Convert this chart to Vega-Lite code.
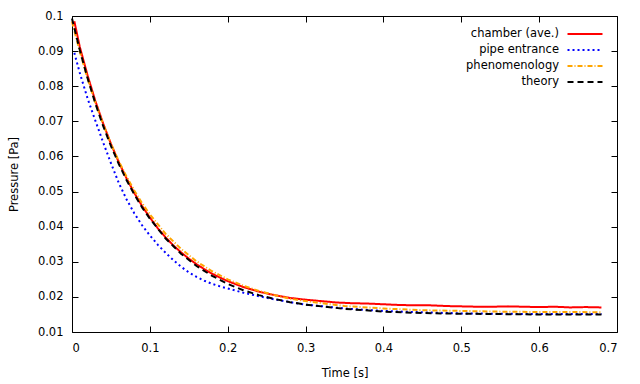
{
  "$schema": "https://vega.github.io/schema/vega-lite/v6.json",
  "width": 545,
  "height": 316,
  "autosize": {"type": "none"},
  "padding": {"left": 72, "top": 16, "right": 23, "bottom": 52},
  "background": "white",
  "config": {
    "font": "DejaVu Sans",
    "view": {"stroke": "black", "strokeWidth": 1},
    "axis": {
      "labelFont": "DejaVu Sans", "labelFontSize": 11.5, "labelColor": "black",
      "titleFont": "DejaVu Sans", "titleFontSize": 11.5, "titleFontWeight": "normal", "titleColor": "black",
      "tickColor": "black", "domainColor": "black", "grid": false, "tickSize": -6
    },
    "legend": {
      "orient": "none", "title": null, "padding": 0,
      "symbolType": "M-2,0H2", "symbolSize": 306,
      "labelAlign": "right", "labelOffset": -36, "rowPadding": 0,
      "labelFont": "DejaVu Sans", "labelFontSize": 11.5, "labelColor": "black"
    }
  },
  "data": {"values": [
    {"s": "chamber (ave.)", "t": 0.003, "p": 0.0985},
    {"s": "chamber (ave.)", "t": 0.01, "p": 0.0912},
    {"s": "chamber (ave.)", "t": 0.02, "p": 0.0831},
    {"s": "chamber (ave.)", "t": 0.03, "p": 0.0758},
    {"s": "chamber (ave.)", "t": 0.04, "p": 0.0694},
    {"s": "chamber (ave.)", "t": 0.05, "p": 0.0636},
    {"s": "chamber (ave.)", "t": 0.06, "p": 0.0584},
    {"s": "chamber (ave.)", "t": 0.07, "p": 0.0538},
    {"s": "chamber (ave.)", "t": 0.08, "p": 0.0496},
    {"s": "chamber (ave.)", "t": 0.09, "p": 0.0459},
    {"s": "chamber (ave.)", "t": 0.10, "p": 0.0426},
    {"s": "chamber (ave.)", "t": 0.11, "p": 0.0396},
    {"s": "chamber (ave.)", "t": 0.12, "p": 0.0370},
    {"s": "chamber (ave.)", "t": 0.13, "p": 0.0347},
    {"s": "chamber (ave.)", "t": 0.14, "p": 0.0327},
    {"s": "chamber (ave.)", "t": 0.15, "p": 0.0309},
    {"s": "chamber (ave.)", "t": 0.16, "p": 0.0293},
    {"s": "chamber (ave.)", "t": 0.17, "p": 0.0279},
    {"s": "chamber (ave.)", "t": 0.18, "p": 0.0266},
    {"s": "chamber (ave.)", "t": 0.19, "p": 0.0255},
    {"s": "chamber (ave.)", "t": 0.20, "p": 0.0245},
    {"s": "chamber (ave.)", "t": 0.22, "p": 0.0228},
    {"s": "chamber (ave.)", "t": 0.24, "p": 0.0215},
    {"s": "chamber (ave.)", "t": 0.26, "p": 0.0205},
    {"s": "chamber (ave.)", "t": 0.28, "p": 0.0197},
    {"s": "chamber (ave.)", "t": 0.30, "p": 0.0192},
    {"s": "chamber (ave.)", "t": 0.32, "p": 0.0188},
    {"s": "chamber (ave.)", "t": 0.34, "p": 0.0184},
    {"s": "chamber (ave.)", "t": 0.36, "p": 0.0182},
    {"s": "chamber (ave.)", "t": 0.38, "p": 0.0181},
    {"s": "chamber (ave.)", "t": 0.40, "p": 0.0179},
    {"s": "chamber (ave.)", "t": 0.42, "p": 0.0177},
    {"s": "chamber (ave.)", "t": 0.44, "p": 0.0176},
    {"s": "chamber (ave.)", "t": 0.46, "p": 0.0176},
    {"s": "chamber (ave.)", "t": 0.48, "p": 0.0174},
    {"s": "chamber (ave.)", "t": 0.50, "p": 0.0173},
    {"s": "chamber (ave.)", "t": 0.52, "p": 0.0172},
    {"s": "chamber (ave.)", "t": 0.54, "p": 0.0172},
    {"s": "chamber (ave.)", "t": 0.56, "p": 0.0173},
    {"s": "chamber (ave.)", "t": 0.58, "p": 0.0172},
    {"s": "chamber (ave.)", "t": 0.60, "p": 0.0171},
    {"s": "chamber (ave.)", "t": 0.62, "p": 0.0172},
    {"s": "chamber (ave.)", "t": 0.64, "p": 0.0170},
    {"s": "chamber (ave.)", "t": 0.66, "p": 0.0171},
    {"s": "chamber (ave.)", "t": 0.68, "p": 0.0170},

    {"s": "pipe entrance", "t": 0.003, "p": 0.0895},
    {"s": "pipe entrance", "t": 0.01, "p": 0.0838},
    {"s": "pipe entrance", "t": 0.02, "p": 0.0765},
    {"s": "pipe entrance", "t": 0.03, "p": 0.0702},
    {"s": "pipe entrance", "t": 0.04, "p": 0.0640},
    {"s": "pipe entrance", "t": 0.05, "p": 0.0581},
    {"s": "pipe entrance", "t": 0.06, "p": 0.0525},
    {"s": "pipe entrance", "t": 0.07, "p": 0.0478},
    {"s": "pipe entrance", "t": 0.08, "p": 0.0438},
    {"s": "pipe entrance", "t": 0.09, "p": 0.0404},
    {"s": "pipe entrance", "t": 0.10, "p": 0.0375},
    {"s": "pipe entrance", "t": 0.11, "p": 0.0349},
    {"s": "pipe entrance", "t": 0.12, "p": 0.0326},
    {"s": "pipe entrance", "t": 0.13, "p": 0.0305},
    {"s": "pipe entrance", "t": 0.14, "p": 0.0286},
    {"s": "pipe entrance", "t": 0.15, "p": 0.0270},
    {"s": "pipe entrance", "t": 0.16, "p": 0.0257},
    {"s": "pipe entrance", "t": 0.17, "p": 0.0246},
    {"s": "pipe entrance", "t": 0.18, "p": 0.0237},
    {"s": "pipe entrance", "t": 0.19, "p": 0.0230},
    {"s": "pipe entrance", "t": 0.20, "p": 0.0224},
    {"s": "pipe entrance", "t": 0.22, "p": 0.0212},
    {"s": "pipe entrance", "t": 0.24, "p": 0.0202},
    {"s": "pipe entrance", "t": 0.26, "p": 0.0193},
    {"s": "pipe entrance", "t": 0.28, "p": 0.0185},
    {"s": "pipe entrance", "t": 0.30, "p": 0.0178},
    {"s": "pipe entrance", "t": 0.35, "p": 0.0167},
    {"s": "pipe entrance", "t": 0.40, "p": 0.0160},
    {"s": "pipe entrance", "t": 0.45, "p": 0.0156},
    {"s": "pipe entrance", "t": 0.50, "p": 0.0153},
    {"s": "pipe entrance", "t": 0.55, "p": 0.0152},
    {"s": "pipe entrance", "t": 0.60, "p": 0.0151},
    {"s": "pipe entrance", "t": 0.65, "p": 0.0151},
    {"s": "pipe entrance", "t": 0.68, "p": 0.0151},

    {"s": "phenomenology", "t": 0.0, "p": 0.0984},
    {"s": "phenomenology", "t": 0.01, "p": 0.0899},
    {"s": "phenomenology", "t": 0.02, "p": 0.0822},
    {"s": "phenomenology", "t": 0.03, "p": 0.0753},
    {"s": "phenomenology", "t": 0.04, "p": 0.0692},
    {"s": "phenomenology", "t": 0.05, "p": 0.0636},
    {"s": "phenomenology", "t": 0.06, "p": 0.0587},
    {"s": "phenomenology", "t": 0.07, "p": 0.0543},
    {"s": "phenomenology", "t": 0.08, "p": 0.0503},
    {"s": "phenomenology", "t": 0.09, "p": 0.0467},
    {"s": "phenomenology", "t": 0.10, "p": 0.0435},
    {"s": "phenomenology", "t": 0.12, "p": 0.0380},
    {"s": "phenomenology", "t": 0.14, "p": 0.0337},
    {"s": "phenomenology", "t": 0.16, "p": 0.0301},
    {"s": "phenomenology", "t": 0.18, "p": 0.0273},
    {"s": "phenomenology", "t": 0.20, "p": 0.0250},
    {"s": "phenomenology", "t": 0.22, "p": 0.0232},
    {"s": "phenomenology", "t": 0.24, "p": 0.0217},
    {"s": "phenomenology", "t": 0.26, "p": 0.0205},
    {"s": "phenomenology", "t": 0.28, "p": 0.0195},
    {"s": "phenomenology", "t": 0.30, "p": 0.0188},
    {"s": "phenomenology", "t": 0.35, "p": 0.0174},
    {"s": "phenomenology", "t": 0.40, "p": 0.0167},
    {"s": "phenomenology", "t": 0.45, "p": 0.0162},
    {"s": "phenomenology", "t": 0.50, "p": 0.0160},
    {"s": "phenomenology", "t": 0.55, "p": 0.0158},
    {"s": "phenomenology", "t": 0.60, "p": 0.0157},
    {"s": "phenomenology", "t": 0.65, "p": 0.0157},
    {"s": "phenomenology", "t": 0.68, "p": 0.0156},

    {"s": "theory", "t": 0.0, "p": 0.0993},
    {"s": "theory", "t": 0.01, "p": 0.0903},
    {"s": "theory", "t": 0.02, "p": 0.0823},
    {"s": "theory", "t": 0.03, "p": 0.0751},
    {"s": "theory", "t": 0.04, "p": 0.0687},
    {"s": "theory", "t": 0.05, "p": 0.0630},
    {"s": "theory", "t": 0.06, "p": 0.0579},
    {"s": "theory", "t": 0.07, "p": 0.0533},
    {"s": "theory", "t": 0.08, "p": 0.0492},
    {"s": "theory", "t": 0.09, "p": 0.0455},
    {"s": "theory", "t": 0.10, "p": 0.0423},
    {"s": "theory", "t": 0.12, "p": 0.0367},
    {"s": "theory", "t": 0.14, "p": 0.0323},
    {"s": "theory", "t": 0.16, "p": 0.0288},
    {"s": "theory", "t": 0.18, "p": 0.0260},
    {"s": "theory", "t": 0.20, "p": 0.0237},
    {"s": "theory", "t": 0.22, "p": 0.0219},
    {"s": "theory", "t": 0.24, "p": 0.0205},
    {"s": "theory", "t": 0.26, "p": 0.0194},
    {"s": "theory", "t": 0.28, "p": 0.0185},
    {"s": "theory", "t": 0.30, "p": 0.0178},
    {"s": "theory", "t": 0.35, "p": 0.0166},
    {"s": "theory", "t": 0.40, "p": 0.0158},
    {"s": "theory", "t": 0.45, "p": 0.0154},
    {"s": "theory", "t": 0.50, "p": 0.0152},
    {"s": "theory", "t": 0.55, "p": 0.0151},
    {"s": "theory", "t": 0.60, "p": 0.0150},
    {"s": "theory", "t": 0.65, "p": 0.0150},
    {"s": "theory", "t": 0.68, "p": 0.0150}
  ]},
  "layer": [
    {
      "mark": {"type": "line"},
      "encoding": {
        "x": {"field": "t", "type": "quantitative", "title": "Time [s]",
              "scale": {"domain": [0, 0.7], "nice": false, "zero": false},
              "axis": {"values": [0, 0.1, 0.2, 0.3, 0.4, 0.5, 0.6, 0.7], "format": "~g", "labelPadding": 16, "titlePadding": 14, "domain": false}},
        "y": {"field": "p", "type": "quantitative", "title": "Pressure [Pa]",
              "scale": {"domain": [0.01, 0.1], "nice": false, "zero": false},
              "axis": {"values": [0.01, 0.02, 0.03, 0.04, 0.05, 0.06, 0.07, 0.08, 0.09, 0.1], "format": "~g", "labelPadding": 15, "titlePadding": 18, "domain": false}},
        "color": {"field": "s", "type": "nominal",
                  "scale": {"domain": ["chamber (ave.)", "pipe entrance", "phenomenology", "theory"], "range": ["#ff0000", "#0000ff", "#ffa500", "#000000"]},
                  "legend": {"legendX": 503, "legendY": 8}},
        "strokeDash": {"field": "s", "type": "nominal",
                  "scale": {"domain": ["chamber (ave.)", "pipe entrance", "phenomenology", "theory"], "range": [[1, 0], [2, 3], [5, 2, 1, 2], [6, 4]]},
                  "legend": {"legendX": 503, "legendY": 8}},
        "strokeWidth": {"field": "s", "type": "nominal",
                  "scale": {"domain": ["chamber (ave.)", "pipe entrance", "phenomenology", "theory"], "range": [2, 2, 1, 1.5]},
                  "legend": {"legendX": 503, "legendY": 8}}
      }
    },
    {
      "mark": {"type": "line", "opacity": 0},
      "encoding": {
        "x": {"field": "t", "type": "quantitative",
              "axis": {"orient": "top", "values": [0, 0.1, 0.2, 0.3, 0.4, 0.5, 0.6, 0.7], "labels": false, "title": null, "domain": false}},
        "y": {"field": "p", "type": "quantitative",
              "axis": {"orient": "right", "values": [0.01, 0.02, 0.03, 0.04, 0.05, 0.06, 0.07, 0.08, 0.09, 0.1], "labels": false, "title": null, "domain": false}}
      }
    }
  ],
  "resolve": {"axis": {"x": "independent", "y": "independent"}}
}
